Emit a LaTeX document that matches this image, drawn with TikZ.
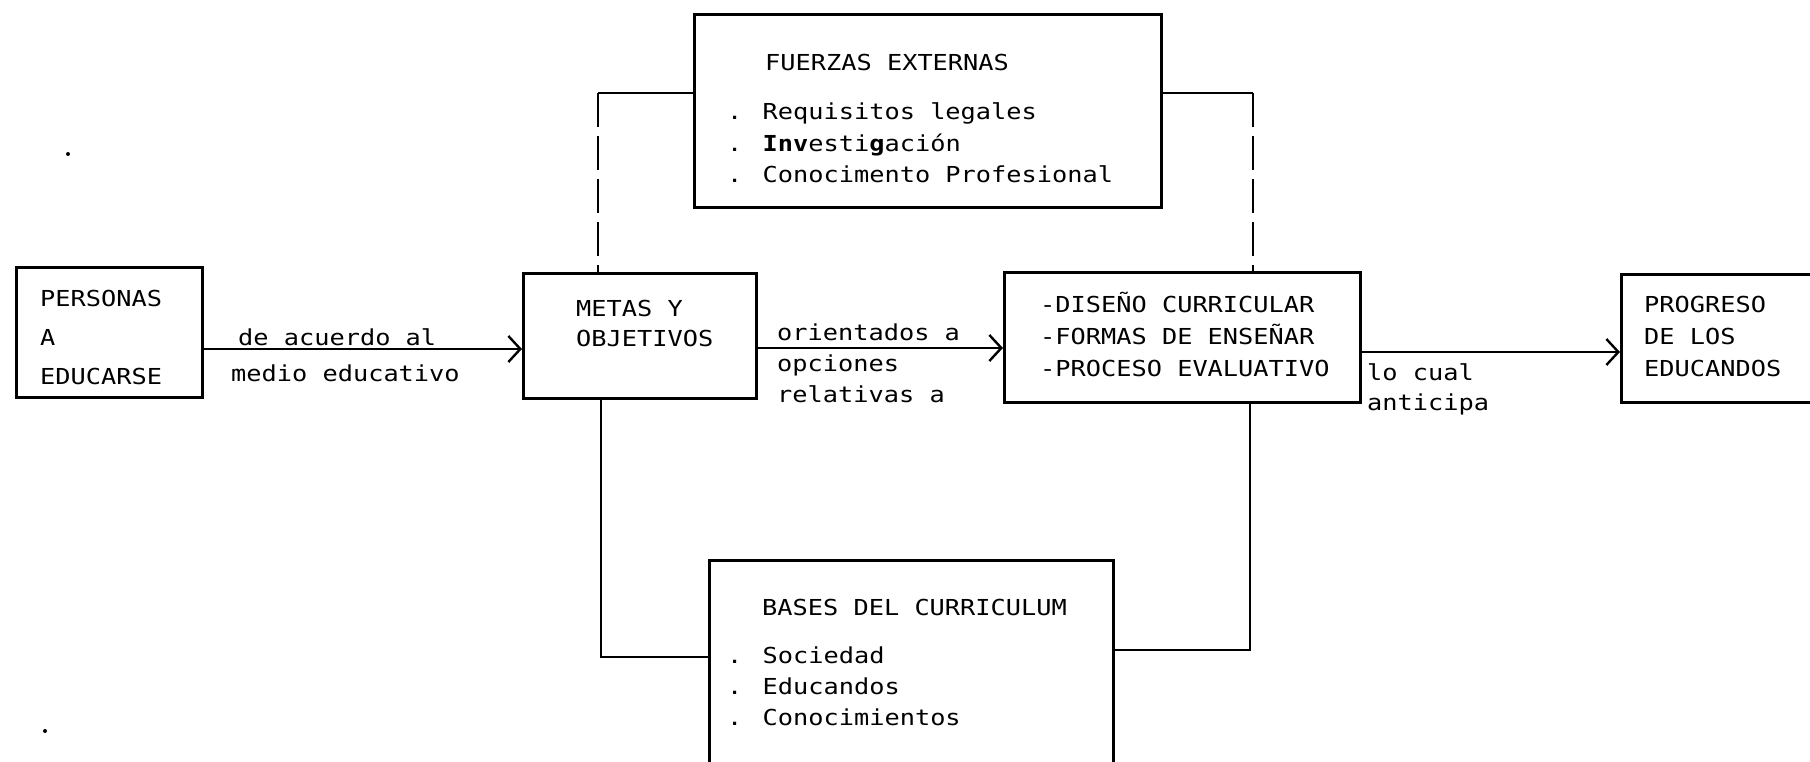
\documentclass[tikz,border=0pt]{standalone}
\usepackage{fontspec}
\usetikzlibrary{arrows.meta}
% typewriter-like sans mono face for all labels
\newfontfamily\tw{DejaVu Sans Mono}[FakeStretch=1.15]
\tikzset{
  box/.style={draw, line width=2.6pt, inner sep=0pt, anchor=north west},
  txt/.style={anchor=base west, inner sep=0pt, font=\tw\fontsize{22}{26}\selectfont},
  link/.style={line width=2pt},
  faint/.style={line width=1.4pt, dash pattern=on 34pt off 9pt},
  flow/.style={line width=1.5pt, -{Straight Barb[length=12pt,width=26pt,line width=2.4pt]}},
}
\begin{document}
\begin{tikzpicture}[x=1pt,y=-1pt]
\useasboundingbox (0,0) rectangle (1810,762);
\clip (0,0) rectangle (1810,762);

% ---- boxes ----
\node[box, minimum width=186pt, minimum height=130pt] (per) at (15,266) {};
\node[box, minimum width=233pt, minimum height=125pt] (met) at (522,272) {};
\node[box, minimum width=356pt, minimum height=130pt] (dis) at (1003,271) {};
\node[box, minimum width=200pt, minimum height=128pt] (pro) at (1620,273) {};
\node[box, minimum width=467pt, minimum height=193pt] (fue) at (693,13) {};
\node[box, minimum width=404pt, minimum height=240pt] (bas) at (708,559) {};

% ---- box texts ----
\node[txt] (per1) at (40,306) {PERSONAS};
\node[txt] (per2) at (40,345) {A};
\node[txt] (per3) at (40,384) {EDUCARSE};

\node[txt] (met1) at (576,316) {METAS Y};
\node[txt] (met2) at (576,346) {OBJETIVOS};

\node[txt] (dis1) at (1040,312) {-DISEÑO CURRICULAR};
\node[txt] (dis2) at (1040,344) {-FORMAS DE ENSEÑAR};
\node[txt] (dis3) at (1040,376) {-PROCESO EVALUATIVO};

\node[txt] (pro1) at (1644,312) {PROGRESO};
\node[txt] (pro2) at (1644,344) {DE LOS};
\node[txt] (pro3) at (1644,376) {EDUCANDOS};

\node[txt] (fue0) at (765,71) {FUERZAS EXTERNAS};
\node[txt] (fue1) at (727,120) {. Requisitos legales};
\node[txt] (fue2) at (727,152) {. \textbf{Inv}esti\textbf{g}ación};
\node[txt] (fue3) at (727,183) {. Conocimento Profesional};

\node[txt] (bas0) at (762,615) {BASES DEL CURRICULUM};
\node[txt] (bas1) at (727,663) {. Sociedad};
\node[txt] (bas2) at (727,694) {. Educandos};
\node[txt] (bas3) at (727,725) {. Conocimientos};

% ---- flow arrows and their labels ----
\coordinate (a1) at (0,349);
\coordinate (a2) at (0,348);
\coordinate (a3) at (0,352);
\draw[flow] (per.east |- a1) -- (met.west |- a1);
\draw[flow] (met.east |- a2) -- (dis.west |- a2);
\draw[flow] (dis.east |- a3) -- (pro.west |- a3);

\node[txt] (l1a) at (238,345) {de acuerdo al};
\node[txt] (l1b) at (231,381) {medio educativo};
\node[txt] (l2a) at (777,340) {orientados a};
\node[txt] (l2b) at (777,371) {opciones};
\node[txt] (l2c) at (777,402) {relativas a};
\node[txt] (l3a) at (1367,380) {lo cual};
\node[txt] (l3b) at (1367,410) {anticipa};

% ---- feedback links between the boxes ----
\coordinate (ul) at (598,93);
\coordinate (ur) at (1253,93);
\coordinate (ll) at (601,657);
\coordinate (lr) at (1250,650);
\draw[link] (fue.west |- ul) -- (ul);
\draw[faint] (ul) -- (ul |- met.north);
\draw[link] (fue.east |- ur) -- (ur);
\draw[faint] (ur) -- (ur |- dis.north);
\draw[link] (ll |- met.south) -- (ll) -- (bas.west |- ll);
\draw[link] (lr |- dis.south) -- (lr) -- (bas.east |- lr);

% ---- stray specks ----
\fill (68,154) circle (2pt);
\fill (45,731) circle (2pt);
\end{tikzpicture}
\end{document}
